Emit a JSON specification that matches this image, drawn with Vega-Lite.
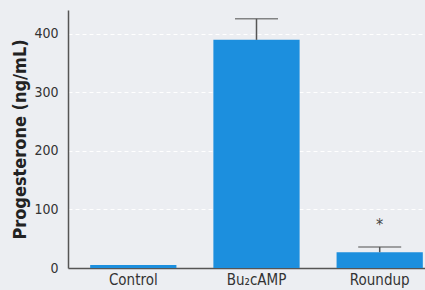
{
  "$schema": "https://vega.github.io/schema/vega-lite/v6.json",
  "width": 377,
  "height": 258,
  "autosize": "none",
  "padding": {"left": 68, "top": 10, "right": 0, "bottom": 22},
  "background": "#eceef2",
  "config": {
    "view": {"stroke": null},
    "font": "DejaVu Sans Condensed"
  },
  "data": {
    "values": [
      {"group": "Control", "value": 5, "err": null, "star": null},
      {"group": "Bu₂cAMP", "value": 390, "err": 426, "star": null},
      {"group": "Roundup", "value": 27, "err": 36, "star": 74}
    ]
  },
  "encoding": {
    "x": {
      "field": "group",
      "type": "nominal",
      "sort": null,
      "scale": {"paddingInner": 0.3, "paddingOuter": 0.18},
      "axis": {
        "title": null,
        "labelAngle": 0,
        "labelFontSize": 15,
        "labelColor": "#333",
        "labelPadding": 4,
        "ticks": false,
        "domainColor": "#555",
        "domainWidth": 1.5
      }
    }
  },
  "layer": [
    {
      "mark": {"type": "bar", "color": "#1c8fde"},
      "encoding": {
        "y": {
          "field": "value",
          "type": "quantitative",
          "scale": {"domain": [0, 441], "nice": false},
          "axis": {
            "title": "Progesterone (ng/mL)",
            "titleFontSize": 18,
            "titleFontWeight": "bold",
            "titleColor": "#222",
            "titlePadding": 4,
            "values": [0, 100, 200, 300, 400],
            "labelFontSize": 14,
            "labelColor": "#333",
            "labelPadding": 10,
            "ticks": false,
            "domainColor": "#555",
            "domainWidth": 1.5,
            "grid": true,
            "gridColor": "#ffffff",
            "gridDash": [4, 3],
            "gridWidth": 1
          }
        }
      }
    },
    {
      "mark": {"type": "rule", "color": "#555", "strokeWidth": 1.5},
      "encoding": {
        "y": {"field": "value", "type": "quantitative"},
        "y2": {"field": "err"}
      }
    },
    {
      "mark": {"type": "tick", "color": "#555", "size": 43, "thickness": 1.5},
      "encoding": {
        "y": {"field": "err", "type": "quantitative"}
      }
    },
    {
      "mark": {"type": "text", "text": "*", "fontSize": 16, "color": "#444", "baseline": "middle"},
      "encoding": {
        "y": {"field": "star", "type": "quantitative"}
      }
    }
  ]
}
